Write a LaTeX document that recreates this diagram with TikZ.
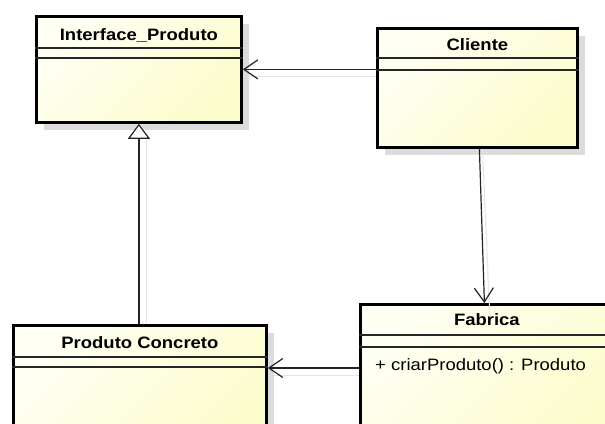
\documentclass[tikz,border=0pt]{standalone}
\usepackage{fontspec}
\setmainfont{Liberation Sans}[FakeStretch=1.12]
\usetikzlibrary{arrows.meta,shadows,calc}
\definecolor{boxlite}{RGB}{255,255,244}
\definecolor{boxdark}{RGB}{252,252,204}
\definecolor{shadowgray}{RGB}{220,220,220}
\definecolor{linecol}{RGB}{35,35,35}
\begin{document}
\begin{tikzpicture}[x=1pt,y=-1pt,
  umlbox/.style={draw=black, line width=2.8pt, top color=boxlite, bottom color=boxdark,
    shading angle=45, inner sep=0pt, anchor=north west,
    drop shadow={shadow xshift=8pt, shadow yshift=-8pt, fill=shadowgray, opacity=1}},
  title/.style={font=\bfseries\fontsize{16.5}{19}\selectfont, inner sep=0pt, anchor=base},
  method/.style={font=\fontsize{16.5}{19}\selectfont, inner sep=0pt, anchor=base west},
  sepline/.style={line width=1.2pt, draw=black!85},
  assoc/.style={line width=1.2pt, draw=linecol, -{Straight Barb[length=14pt,width=19pt]}},
  gen/.style={line width=1.2pt, draw=linecol, -{Triangle[open, length=15pt, width=22pt, fill=white]}},
  lshadow/.style={line width=1pt, draw=black!10}
]
\useasboundingbox (0,0) rectangle (605,423);
\fill[white] (0,0) rectangle (605,423);
\begin{scope}
\clip (0,0) rectangle (605,423);

% boxes
\node[umlbox, minimum width=205pt, minimum height=106pt] (iface) at (35,15) {};
\node[umlbox, minimum width=200pt, minimum height=119pt] (cli) at (376,27) {};
\node[umlbox, minimum width=253pt, minimum height=126pt] (prod) at (12,324) {};
\node[umlbox, minimum width=253pt, minimum height=147pt] (fab) at (359,303) {};

% titles
\node[title] (ifacet) at ($(iface.north)+(0,25)$) {Interface\_Produto};
\node[title] (clit) at ($(cli.north)+(0,23.5)$) {Cliente};
\node[title] (prodt) at ($(prod.north)+(0,24)$) {Produto Concreto};
\node[title] (fabt) at ($(fab.north)+(0,22.5)$) {Fabrica};
\node[method] (fabm) at ($(fab.north west)+(16,67.5)$) {+ criarProduto() : Produto};

% compartments
\draw[sepline] ([yshift=-33pt]iface.north west) -- ([yshift=-33pt]iface.north east);
\draw[sepline] ([yshift=-43pt]iface.north west) -- ([yshift=-43pt]iface.north east);
\draw[sepline] ([yshift=-31pt]cli.north west) -- ([yshift=-31pt]cli.north east);
\draw[sepline] ([yshift=-43pt]cli.north west) -- ([yshift=-43pt]cli.north east);
\draw[sepline] ([yshift=-33pt]prod.north west) -- ([yshift=-33pt]prod.north east);
\draw[sepline] ([yshift=-43pt]prod.north west) -- ([yshift=-43pt]prod.north east);
\draw[sepline] ([yshift=-32pt]fab.north west) -- ([yshift=-32pt]fab.north east);
\draw[sepline] ([yshift=-44pt]fab.north west) -- ([yshift=-44pt]fab.north east);

% connector shadows
\coordinate (pfy) at (0,368);
\draw[lshadow] ([yshift=-7pt]cli.west |- iface.east) -- ([shift={(6pt,-7pt)}]iface.east);
\draw[lshadow] ([xshift=8pt]iface.south |- prod.north) -- ([shift={(8pt,-16pt)}]iface.south);
\draw[lshadow] ([shift={(5pt,0pt)}]cli.south) -- ([shift={(3pt,-14pt)}]fab.north);
\draw[lshadow] ([yshift=-7pt]fab.west |- pfy) -- ([shift={(6pt,-7pt)}]prod.east |- pfy);

% connectors
\draw[assoc] (cli.west |- iface.east) -- (iface.east);
\draw[assoc] ([xshift=2pt]cli.south) -- ([xshift=-2.5pt]fab.north);
\draw[assoc] (fab.west |- pfy) -- (prod.east |- pfy);
\draw[gen] (iface.south |- prod.north) -- (iface.south);
\end{scope}
\end{tikzpicture}
\end{document}
